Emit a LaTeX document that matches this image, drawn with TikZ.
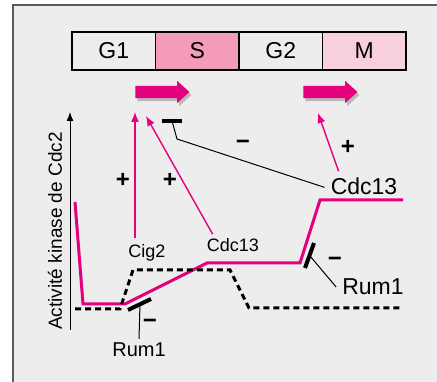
\documentclass[tikz,border=0pt]{standalone}
\usepackage{fontspec}
\setmainfont{Liberation Sans}
\usetikzlibrary{positioning,shapes.arrows,shadows,arrows.meta}
\definecolor{rose}{HTML}{E5007D}
\definecolor{pinkS}{HTML}{F39BB7}
\definecolor{pinkM}{HTML}{F8CFDD}
\definecolor{fond}{HTML}{EDEDED}
\definecolor{cadre}{HTML}{5A5A5A}
\definecolor{ombre}{HTML}{B9B9B9}
\tikzset{
  phase/.style={draw, line width=1.1pt, minimum width=83.5pt, minimum height=38pt, inner sep=0pt, outer sep=0pt, font=\fontsize{23}{26}\selectfont},
  bigarrow/.style={single arrow, fill=rose, inner sep=6pt, minimum height=54pt, single arrow head extend=5pt, single arrow tip angle=84, drop shadow={shadow xshift=2pt, shadow yshift=-3pt, fill=ombre, opacity=1}},
  lab/.style={inner sep=4pt, font=\fontsize{18}{20}\selectfont},
  biglab/.style={inner sep=6pt, font=\fontsize{23}{26}\selectfont},
  sign/.style={inner sep=0pt, font=\bfseries\fontsize{24}{26}\selectfont},
  plusarrow/.style={rose, line width=1.4pt, -{Latex[length=10pt,width=8pt]}},
  inhib/.style={line width=1pt},
  bar/.style={line width=4pt},
}
\begin{document}
\begin{tikzpicture}[x=1pt, y=-1pt]
\useasboundingbox (0,0) rectangle (437,382);
\fill[fond] (13,5) rectangle (440,385);
\draw[cadre, line width=1.5pt] (13,385) -- (13,5) -- (440,5);

% phases du cycle
\node[phase, anchor=west] (g1) at (72,51) {G1};
\node[phase, fill=pinkS, right=0pt of g1] (s) {S};
\node[phase, right=0pt of s] (g2) {G2};
\node[phase, fill=pinkM, right=0pt of g2] (m) {M};

\node[bigarrow] (flecheS) at (159,92) {};
\node[bigarrow] (flecheM) at (327,92) {};

% axe
\coordinate (origine) at (70,330);
\coordinate (haut) at (70,112);
\draw[line width=1pt, -{Latex[length=9pt,width=7pt]}] (origine) -- (haut);
\node[rotate=90, font=\fontsize{19}{20}\selectfont] (axe) at (55,231) {Activité kinase de Cdc2};

% courbes
\draw[rose, line width=3pt, line join=miter] (75,202) -- (83,304) -- (125,304) -- (207,263) -- (300,263) -- (320,200) -- (403,200);
\draw[line width=3pt, dash pattern=on 6pt off 4pt] (75,309) -- (120,309) -- (133,270) -- (230,270) -- (249,308) -- (403,308);

% regulateurs
\node[lab] (cig) at (147,253) {Cig2};
\node[lab] (cdcA) at (233,245) {Cdc13};
\node[biglab] (cdcB) at (364,186) {Cdc13};
\node[biglab] (rumB) at (373,287) {Rum1};
\node[lab, font=\fontsize{20}{22}\selectfont] (rumA) at (139,350) {Rum1};

\coordinate (tipA) at (135,112);
\coordinate (tipB) at (146,116);
\coordinate (tipC) at (318,113);
\draw[plusarrow] (cig.north) ++(-12,-2) -- (tipA);
\draw[plusarrow] (cdcA.152) -- (tipB);
\draw[plusarrow] (cdcB.150) -- (tipC);

\coordinate (barT) at (172,121);
\draw[bar] (162,121) -- (182,121);
\draw[inhib] (cdcB.182) -- (177,139) -- (barT);

\coordinate (barA) at (140,304);
\draw[bar] (128,310) -- (151,299);
\draw[inhib] (barA) -- (rumA.north);

\coordinate (barB) at (310,256);
\draw[bar] (305,268) -- (314,243);
\draw[inhib] (barB) -- (rumB.west);

\node[sign] (p1) at (123,180) {+};
\node[sign] (p2) at (170,180) {+};
\node[sign] (p3) at (348,147) {+};
\node[sign] (m1) at (243,145) {−};
\node[sign] (m2) at (150,324) {−};
\node[sign] (m3) at (335,262) {−};
\end{tikzpicture}
\end{document}
